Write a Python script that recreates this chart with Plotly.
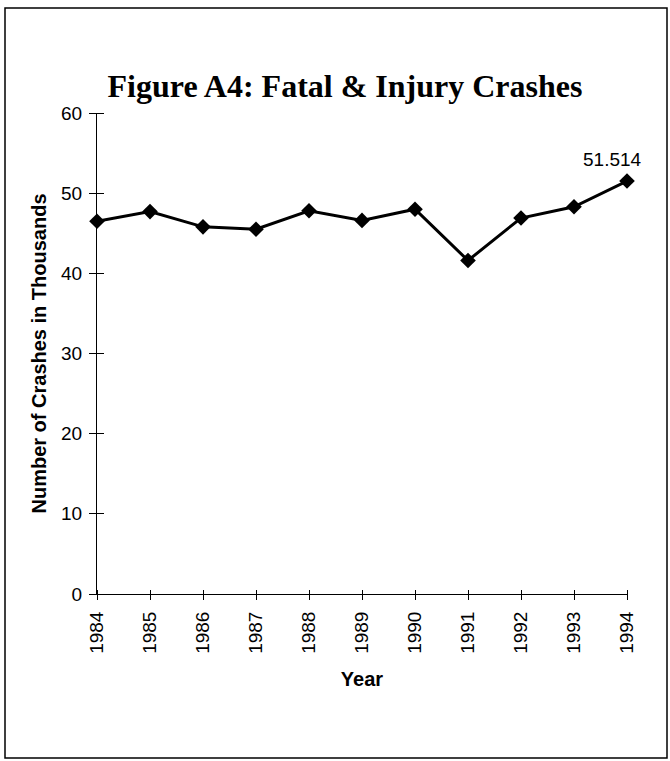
import plotly.graph_objects as go

years = [1984, 1985, 1986, 1987, 1988, 1989, 1990, 1991, 1992, 1993, 1994]
crashes = [46.5, 47.7, 45.8, 45.5, 47.8, 46.6, 48.0, 41.6, 46.9, 48.3, 51.514]
y_ticks = [0, 10, 20, 30, 40, 50, 60]
label_text = "51.514"

W, H = 670, 761
L, R, T, B = 97, 43, 113, 167
pw, ph = W - L - R, H - T - B
YT, XT = 7, 5  # half-lengths of crossing ticks in px

def px_x(px):
    return (px - L) / pw

def px_y(py):
    return (H - B - py) / ph

fig = go.Figure()
fig.add_trace(go.Scatter(
    x=years, y=crashes, mode="lines+markers",
    line=dict(color="black", width=3),
    marker=dict(symbol="diamond", size=12, color="black"),
    cliponaxis=False, showlegend=False,
))

fig.add_annotation(
    x=years[-1], y=crashes[-1], text=label_text, showarrow=False,
    xshift=-15, yshift=22,
    font=dict(family="Liberation Sans, Arial", size=19, color="black"),
)

axis_font = dict(family="Liberation Sans, Arial", size=19, color="black")
title_font = dict(family="Liberation Sans, Arial", size=20, color="black")

fig.update_layout(
    width=W, height=H,
    margin=dict(l=L, r=R, t=T, b=B),
    paper_bgcolor="white", plot_bgcolor="white",
    title=dict(
        text="<b>Figure A4: Fatal &amp; Injury Crashes</b>",
        font=dict(family="Liberation Serif, Times New Roman", size=32, color="black"),
        x=345 / W, xref="container", xanchor="center",
        y=1 - 86 / H, yref="container", yanchor="middle",
    ),
    xaxis=dict(
        range=[1984, 1994], tickmode="array", tickvals=years,
        ticktext=[str(y) for y in years], tickangle=-90,
        ticks="outside", ticklen=XT, tickcolor="black", tickwidth=1,
        showline=True, linecolor="black", linewidth=1,
        showgrid=False, zeroline=False, tickfont=axis_font,
        ticklabelstandoff=4,
        title=dict(text="<b>Year</b>", font=title_font, standoff=19),
    ),
    yaxis=dict(
        range=[0, 60], tickmode="array", tickvals=y_ticks,
        ticks="outside", ticklen=YT, tickcolor="black", tickwidth=1,
        showline=True, linecolor="black", linewidth=1,
        showgrid=False, zeroline=False, tickfont=axis_font,
        ticklabelstandoff=3,
        title=dict(text="<b>Number of Crashes in Thousands</b>", font=title_font, standoff=9),
    ),
    xaxis2=dict(
        overlaying="x", range=[1984, 1994], tickmode="array",
        tickvals=years, ticks="outside", ticklen=2 * XT, tickcolor="black", tickwidth=1,
        showticklabels=False, showline=False, showgrid=False, zeroline=False,
        side="bottom", anchor="free", position=XT / ph,
    ),
    yaxis2=dict(
        overlaying="y", range=[0, 60], tickmode="array",
        tickvals=y_ticks, ticks="outside", ticklen=2 * YT, tickcolor="black", tickwidth=1,
        showticklabels=False, showline=False, showgrid=False, zeroline=False,
        side="left", anchor="free", position=YT / pw,
    ),
)

fig.add_trace(go.Scatter(
    x=years, y=crashes, xaxis="x2", yaxis="y2", mode="markers",
    marker=dict(size=1, opacity=0), hoverinfo="skip", showlegend=False,
))

fig.add_shape(
    type="rect", xref="paper", yref="paper",
    x0=px_x(5), x1=px_x(667), y0=px_y(758), y1=px_y(8),
    line=dict(color="black", width=1.5), fillcolor="rgba(0,0,0,0)", layer="below",
)

fig.write_html("out.html", config={"displayModeBar": False},
               post_script="document.body.style.margin='0';")
